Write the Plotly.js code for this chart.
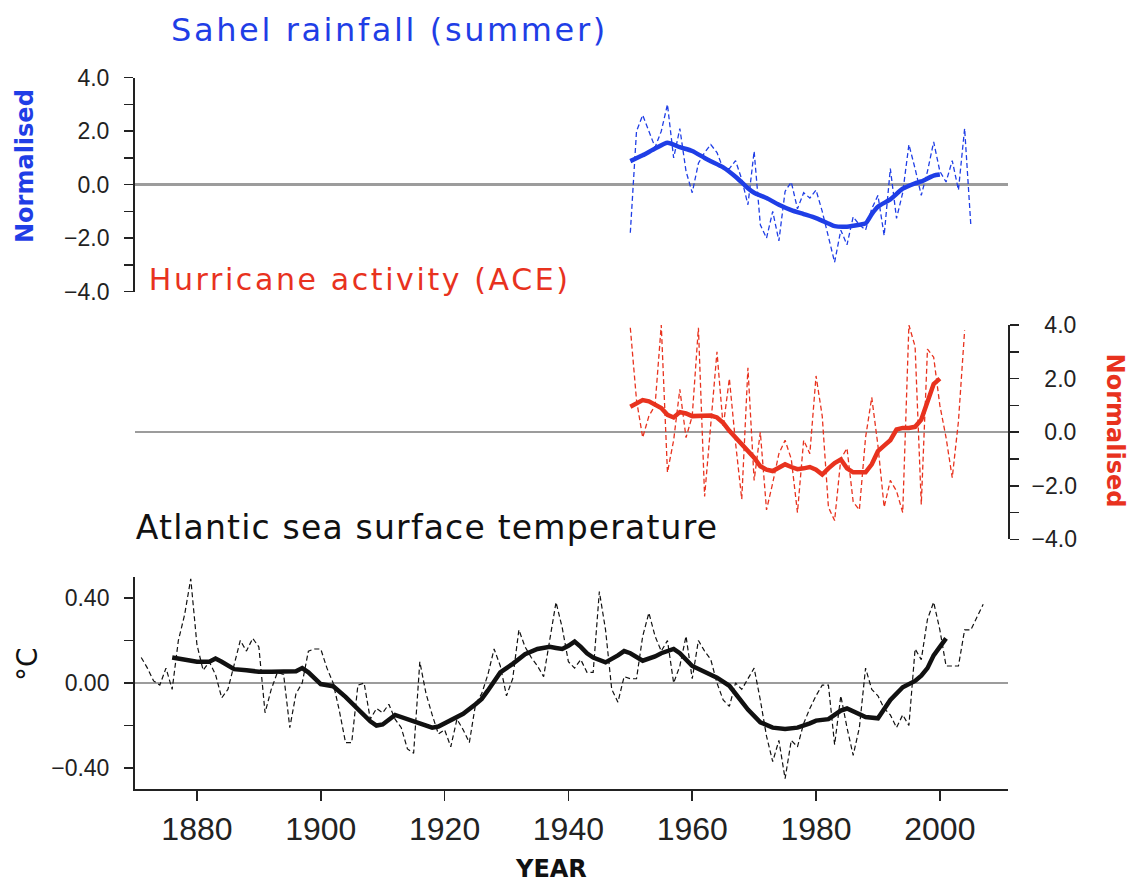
<!DOCTYPE html>
<html>
<head>
<meta charset="utf-8">
<script src="https://cdn.plot.ly/plotly-3.0.1.min.js"></script>
<style>html,body{margin:0;padding:0;background:#fff;}</style>
</head>
<body>
<div id="chart" style="width:1130px;height:883px;"></div>
<script>
// ---------- Sahel rainfall (summer), normalised ----------
const sahelYears = [1950,1951,1952,1953,1954,1955,1956,1957,1958,1959,
  1960,1961,1962,1963,1964,1965,1966,1967,1968,1969,
  1970,1971,1972,1973,1974,1975,1976,1977,1978,1979,
  1980,1981,1982,1983,1984,1985,1986,1987,1988,1989,
  1990,1991,1992,1993,1994,1995,1996,1997,1998,1999,
  2000,2001,2002,2003,2004,2005];
const sahelAnnual = [-1.8,2.0,2.6,2.0,1.4,2.0,3.0,1.0,2.1,0.5,
  -0.3,0.8,1.2,1.5,1.2,0.6,0.6,0.9,0.2,-0.75,
  1.25,-1.5,-2.0,-1.0,-2.1,-0.25,0.1,-0.9,-0.3,-0.5,
  -0.2,-1.0,-1.9,-2.9,-1.7,-2.25,-1.2,-1.5,-1.7,-0.9,
  -0.4,-1.9,0.6,-1.26,-0.3,1.5,0.6,-0.4,0.5,1.6,
  0.5,0.1,0.9,-0.2,2.1,-1.5];
const sahelSmoothYears = [1950,1952,1954,1956,1958,1960,1962,1963,1965,1967,1969,1970,1972,1974,1976,1978,1980,1982,1983,1985,1987,1988,1989,1990,1992,1994,1996,1997,1999,2000];
const sahelSmooth = [0.88,1.1,1.35,1.57,1.4,1.26,1.0,0.88,0.65,0.3,-0.13,-0.3,-0.5,-0.75,-0.95,-1.1,-1.25,-1.45,-1.55,-1.57,-1.5,-1.45,-1.1,-0.82,-0.55,-0.15,0.05,0.12,0.34,0.38];

// ---------- Hurricane activity (ACE), normalised ----------
const aceYears = [1950,1951,1952,1953,1954,1955,1956,1957,1958,1959,
  1960,1961,1962,1963,1964,1965,1966,1967,1968,1969,
  1970,1971,1972,1973,1974,1975,1976,1977,1978,1979,
  1980,1981,1982,1983,1984,1985,1986,1987,1988,1989,
  1990,1991,1992,1993,1994,1995,1996,1997,1998,1999,
  2000,2001,2002,2003,2004];
const aceAnnual = [3.9,1.2,-0.2,0.6,1.0,4.0,-1.5,-0.3,1.6,-0.2,
  0.6,3.9,-2.4,0.3,3.0,0.2,2.0,-0.4,-2.5,2.4,
  -1.8,0.0,-2.9,-1.9,-0.8,-0.3,-1.0,-3.0,-0.3,-0.8,
  2.1,0.6,-2.8,-3.3,-1.0,-0.6,-2.6,-2.9,-0.2,1.3,
  -0.5,-2.8,-1.8,-2.2,-3.0,4.0,3.2,-2.7,3.1,2.8,
  1.0,-0.2,-1.7,0.4,3.8];
const aceSmoothYears = [1950,1951,1952,1953,1954,1955,1956,1957,1958,1959,
  1960,1961,1962,1963,1964,1965,1966,1967,1968,1969,
  1970,1971,1972,1973,1974,1975,1976,1977,1978,1979,
  1980,1981,1982,1983,1984,1985,1986,1987,1988,1989,
  1990,1991,1992,1993,1994,1995,1996,1997,1998,1999,2000];
const aceSmooth = [0.95,1.1,1.2,1.15,1.0,0.9,0.65,0.55,0.75,0.7,
  0.6,0.62,0.6,0.62,0.55,0.35,0.05,-0.2,-0.4,-0.65,
  -0.95,-1.27,-1.4,-1.45,-1.3,-1.2,-1.3,-1.38,-1.35,-1.3,
  -1.4,-1.58,-1.35,-1.15,-1.02,-1.35,-1.5,-1.5,-1.5,-1.2,
  -0.71,-0.5,-0.3,0.1,0.16,0.16,0.2,0.47,1.1,1.8,2.0];

// ---------- Atlantic sea surface temperature (°C) ----------
const sstYears = [];
for (let y = 1871; y <= 2007; y++) sstYears.push(y);
const sstAnnual = [
  0.12,0.07,0.01,-0.01,0.07,-0.03,0.20,0.32,0.49,0.18,
  0.06,0.10,0.04,-0.07,-0.03,0.08,0.20,0.15,0.21,0.17,
  -0.14,-0.03,0.05,0.04,-0.21,-0.05,0.00,0.15,0.16,0.16,
  0.07,0.00,-0.13,-0.28,-0.28,-0.01,0.00,-0.17,-0.12,-0.14,
  -0.10,-0.17,-0.21,-0.31,-0.33,0.10,-0.05,-0.15,-0.24,-0.22,
  -0.30,-0.17,-0.22,-0.28,-0.10,-0.05,0.04,0.16,0.08,-0.06,
  0.02,0.25,0.17,0.12,0.08,0.03,0.20,0.38,0.26,0.10,
  0.07,0.11,0.05,0.05,0.43,0.25,-0.03,-0.09,0.03,0.02,
  0.02,0.22,0.33,0.22,0.15,0.20,0.00,0.08,0.22,0.02,
  0.20,0.15,0.11,0.00,-0.08,-0.11,0.00,-0.03,0.02,0.07,
  -0.08,-0.25,-0.37,-0.27,-0.45,-0.27,-0.30,-0.19,-0.12,-0.06,
  -0.01,-0.01,-0.29,-0.06,-0.21,-0.34,-0.21,0.07,-0.03,-0.06,
  -0.12,-0.15,-0.21,-0.15,-0.20,0.16,0.11,0.30,0.38,0.25,
  0.08,0.08,0.08,0.25,0.25,0.31,0.37];
const sstSmoothYears = [1876,1878,1880,1882,1883,1884,1886,1888,1890,1892,1894,1896,1897,1898,1900,1902,1904,1906,1908,1909,1910,1912,1914,1916,1918,1919,1921,1923,1925,1926,1927,1928,1929,1931,1933,1935,1937,1938,1939,1940,1941,1942,1943,1944,1946,1948,1949,1950,1952,1954,1955,1957,1958,1960,1962,1964,1966,1968,1969,1971,1973,1975,1977,1979,1980,1982,1984,1985,1987,1988,1990,1991,1992,1994,1996,1997,1998,1999,2000,2001];
const sstSmooth = [0.12,0.11,0.10,0.10,0.115,0.10,0.065,0.06,0.053,0.053,0.053,0.055,0.07,0.05,-0.005,-0.015,-0.065,-0.12,-0.18,-0.2,-0.195,-0.15,-0.17,-0.19,-0.21,-0.205,-0.175,-0.145,-0.10,-0.075,-0.035,0.01,0.05,0.09,0.135,0.16,0.17,0.165,0.16,0.175,0.195,0.17,0.14,0.12,0.097,0.13,0.15,0.14,0.105,0.125,0.14,0.16,0.14,0.08,0.05,0.025,-0.013,-0.09,-0.125,-0.185,-0.21,-0.216,-0.21,-0.19,-0.177,-0.17,-0.13,-0.12,-0.15,-0.16,-0.166,-0.12,-0.08,-0.02,0.01,0.034,0.07,0.13,0.17,0.21];

const xTickVals = [1880,1900,1920,1940,1960,1980,2000];

const BLUE = '#1f3ee6', RED = '#e8321e', BLACK = '#111111';
const AXC = '#222222', ZERO = '#9c9c9c';
const dashed = '5px,3px';

const traces = [
  {x: sahelYears, y: sahelAnnual, xaxis:'x', yaxis:'y2', mode:'lines',
   line:{color:BLUE, width:1.3, dash:dashed}, hoverinfo:'skip'},
  {x: sahelSmoothYears, y: sahelSmooth, xaxis:'x', yaxis:'y2', mode:'lines',
   line:{color:BLUE, width:4.5, shape:'spline', smoothing:0.6}},
  {x: aceYears, y: aceAnnual, xaxis:'x', yaxis:'y3', mode:'lines',
   line:{color:RED, width:1.3, dash:dashed}, hoverinfo:'skip'},
  {x: aceSmoothYears, y: aceSmooth, xaxis:'x', yaxis:'y3', mode:'lines',
   line:{color:RED, width:4.5}},
  {x: sstYears, y: sstAnnual, xaxis:'x', yaxis:'y', mode:'lines',
   line:{color:BLACK, width:1.2, dash:dashed}, hoverinfo:'skip'},
  {x: sstSmoothYears, y: sstSmooth, xaxis:'x', yaxis:'y', mode:'lines',
   line:{color:BLACK, width:4.5}}
];

const tickFont = {family:'Liberation Sans, Arial, sans-serif', size:23, color:AXC};

const yCommon = {
  showline:true, linecolor:AXC, linewidth:2, ticks:'outside', ticklen:9, tickwidth:1.5,
  tickcolor:AXC, showgrid:false, zeroline:true, zerolinecolor:ZERO, zerolinewidth:2.5,
  tickfont:tickFont, fixedrange:true
};

const FS = '\u2007';

const layout = {
  width:1130, height:883,
  margin:{l:0, r:0, t:0, b:0},
  paper_bgcolor:'#ffffff', plot_bgcolor:'rgba(0,0,0,0)',
  showlegend:false,
  xaxis:{
    domain:[0.1195, 0.892], range:[1870, 2011], anchor:'y',
    showline:true, linecolor:AXC, linewidth:2, showgrid:false, zeroline:false,
    ticks:'outside', ticklen:10, tickwidth:1.5, tickcolor:AXC,
    tickmode:'array', tickvals:xTickVals,
    tickfont:{family:'Liberation Sans, Arial, sans-serif', size:32, color:AXC},
    ticklabelstandoff:0,
    fixedrange:true
  },
  yaxis: Object.assign({}, yCommon, {
    domain:[0.1061, 0.3469], range:[-0.5, 0.5], anchor:'x', side:'left',
    dtick:0.4, tick0:0, tickformat:'.2f', ticklabelstandoff:10,
    minor:{dtick:0.2, tick0:0, ticks:'outside', ticklen:9, tickwidth:1.5, tickcolor:AXC, showgrid:false}
  }),
  yaxis2: Object.assign({}, yCommon, {
    domain:[0.6697, 0.9120], range:[-4, 4], anchor:'x', side:'left',
    dtick:2, tick0:0, tickformat:'.1f', ticklabelstandoff:10,
    minor:{dtick:1, tick0:0, ticks:'outside', ticklen:9, tickwidth:1.5, tickcolor:AXC, showgrid:false}
  }),
  yaxis3: Object.assign({}, yCommon, {
    domain:[0.3892, 0.6319], range:[-4, 4], anchor:'x', side:'right',
    dtick:2, tick0:0, tickformat:'.1f', ticklabelstandoff:8,
    labelalias:{'4.0':FS+'4.0', '2.0':FS+'2.0', '0.0':FS+'0.0'},
    minor:{dtick:1, tick0:0, ticks:'outside', ticklen:9, tickwidth:1.5, tickcolor:AXC, showgrid:false}
  }),
  annotations:[
    {text:'Sahel rainfall (summer)', xref:'paper', yref:'paper', x:0.1757, y:0.966,
     xanchor:'left', yanchor:'middle', showarrow:false,
     font:{family:'DejaVu Sans, sans-serif', size:32, color:BLUE}},
    {text:'Hurricane activity (ACE)', xref:'paper', yref:'paper', x:0.1575, y:0.683,
     xanchor:'left', yanchor:'middle', showarrow:false,
     font:{family:'DejaVu Sans, sans-serif', size:30, color:RED}},
    {text:'Atlantic sea surface temperature', xref:'paper', yref:'paper', x:0.1354, y:0.403,
     xanchor:'left', yanchor:'middle', showarrow:false,
     font:{family:'DejaVu Sans, sans-serif', size:33, color:BLACK}},
    {text:'<b>Normalised</b>', xref:'paper', yref:'paper', x:0.0221, y:0.812,
     xanchor:'center', yanchor:'middle', showarrow:false, textangle:-90,
     font:{family:'DejaVu Sans, sans-serif', size:24, color:BLUE}},
    {text:'<b>Normalised</b>', xref:'paper', yref:'paper', x:0.987, y:0.512,
     xanchor:'center', yanchor:'middle', showarrow:false, textangle:90,
     font:{family:'DejaVu Sans, sans-serif', size:24, color:RED}},
    {text:'°C', xref:'paper', yref:'paper', x:0.0239, y:0.248,
     xanchor:'center', yanchor:'middle', showarrow:false, textangle:-90,
     font:{family:'DejaVu Sans, sans-serif', size:28, color:BLACK}},
    {text:'<b>YEAR</b>', xref:'paper', yref:'paper', x:0.4876, y:0.016,
     xanchor:'center', yanchor:'middle', showarrow:false,
     font:{family:'DejaVu Sans, sans-serif', size:24, color:BLACK}}
  ]
};

Plotly.newPlot('chart', traces, layout, {displayModeBar:false, staticPlot:true}).then(function(gd){
  // widen the panel titles to the spacing of the original lettering
  const spacing = ['2.6px', '2.6px', '1.2px'];
  const texts = gd.querySelectorAll('.annotation-text');
  spacing.forEach(function(s, i){ if (texts[i]) texts[i].style.letterSpacing = s; });
});
</script>
</body>
</html>
